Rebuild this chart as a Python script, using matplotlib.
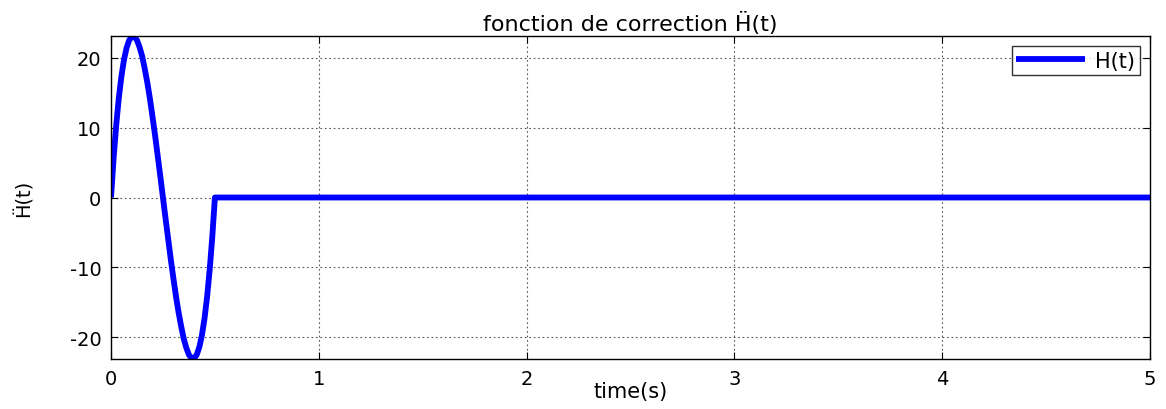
import matplotlib
matplotlib.use("Agg")
import matplotlib.pyplot as plt

# Values
t_vals = [0.0, 0.0125, 0.025, 0.0375, 0.05, 0.0625, 0.075, 0.0875, 0.1, 0.1125,
          0.125, 0.1375, 0.15, 0.1625, 0.175, 0.1875, 0.2, 0.2125, 0.225, 0.2375,
          0.25, 0.2625, 0.275, 0.2875, 0.3, 0.3125, 0.325, 0.3375, 0.35, 0.3625,
          0.375, 0.3875, 0.4, 0.4125, 0.425, 0.4375, 0.45, 0.4625, 0.475, 0.4875,
          0.5, 5.0]
h_vals = [0.0, 5.6, 10.3, 14.2, 17.3, 19.7, 21.4, 22.5, 23.0, 23.0,
          22.5, 21.5, 20.2, 18.4, 16.4, 14.1, 11.5, 8.8, 5.9, 3.0,
          0.0, -3.0, -5.9, -8.8, -11.5, -14.1, -16.4, -18.4, -20.2, -21.5,
          -22.5, -23.0, -23.0, -22.5, -21.4, -19.7, -17.3, -14.2, -10.3, -5.6,
          0.0, 0.0]
x_ticks = [0, 1, 2, 3, 4, 5]
y_ticks = [-20, -10, 0, 10, 20]

plt.rcParams['font.family'] = ['DejaVu Sans']
plt.rcParams['axes.unicode_minus'] = False

fig = plt.figure(figsize=(11.66, 4.10), dpi=100)
ax = fig.add_axes([111/1166, 1 - 360/410, (1150-111)/1166, (360-37)/410])

ax.plot(t_vals, h_vals, color='#0000ff', linewidth=4.2, label='H(t)',
        solid_joinstyle='round', solid_capstyle='butt')
ax.set_xlim(0, 5)
ax.set_ylim(-23.1, 23.1)
ax.set_xticks(x_ticks)
ax.set_yticks(y_ticks)
ax.tick_params(direction='in', top=True, right=True, labelsize=14, length=5,
               width=0.8, pad=7)
ax.grid(True, linestyle=(0, (1.5, 2.5)), color='#555555', linewidth=0.8)
for s in ax.spines.values():
    s.set_linewidth(1.0)
    s.set_color('black')

ax.set_title('fonction de correction \u1E26(t)', fontsize=16, pad=4)
ax.set_xlabel('time(s)', fontsize=15, labelpad=-5)
ax.set_ylabel('\u1E26(t)', fontsize=14, labelpad=26)

leg = ax.legend(loc='upper right', fontsize=15, frameon=True, fancybox=False,
                handlelength=3.3, borderpad=0.2, handletextpad=0.5,
                borderaxespad=0.5)
leg.get_frame().set_edgecolor('black')
leg.get_frame().set_linewidth(1.0)

fig.savefig('out.png', dpi=100)
